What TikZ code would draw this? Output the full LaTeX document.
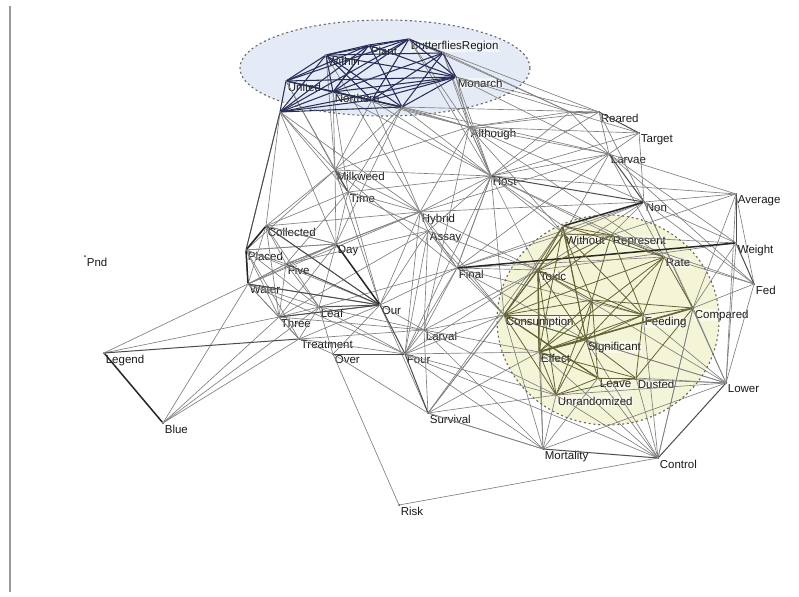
\documentclass[tikz,border=0pt]{standalone}
\usepackage{fontspec}
\setmainfont{Liberation Sans}
\definecolor{navyedge}{RGB}{40,46,88}
\definecolor{oliveedge}{RGB}{100,100,55}
\definecolor{bluefill}{RGB}{228,234,246}
\definecolor{yellowfill}{RGB}{244,244,214}
\begin{document}
\begin{tikzpicture}[x=1pt,y=-1pt,
 pt/.style={circle,fill=black!75,inner sep=0pt,minimum size=2pt},
 lbl/.style={font=\fontsize{11.5}{12}\selectfont,text=black!90,inner sep=0.8pt,fill=white,fill opacity=0.55,text opacity=1},
 ge/.style={draw=black!50,line width=0.65pt},
 gd/.style={draw=black!70,line width=1pt},
 gk/.style={draw=black!85,line width=1.5pt},
 be/.style={draw=navyedge,line width=1.05pt},
 oe/.style={draw=oliveedge,line width=0.8pt},
 ring/.style={draw=black!60,line width=1.1pt,dash pattern=on 2pt off 2.8pt},
 lb/.style={label={[lbl,label distance=0pt]below right:#1}}
]
\useasboundingbox (0,0) rectangle (799,596);
\fill[white] (0,0) rectangle (799,596);
\draw[line width=2.5pt,black!40] (10,6) -- (10,592);
% region fills
\fill[bluefill] (385,68) ellipse [x radius=145, y radius=48];
\fill[yellowfill] (608,320) ellipse [x radius=111, y radius=105];
% nodes
\node[pt,lb=Pnd] (pnd) at (85,256) {};
\node[pt,lb=Legend] (legend) at (104,353) {};
\node[pt,lb=Blue] (blue) at (163,423) {};
\node[pt,lb=Risk] (risk) at (399,505) {};
\node[pt,lb=Survival] (survival) at (428,413) {};
\node[pt,lb=Four] (four) at (405,354) {};
\node[pt,lb=Over] (over) at (333,354) {};
\node[pt,lb=Treatment] (treatment) at (299,339) {};
\node[pt,lb=Three] (three) at (279,317) {};
\node[pt,lb=Leaf] (leaf) at (319,307) {};
\node[pt,lb=Larval] (larval) at (424,330) {};
\node[pt,lb=Our] (our) at (380,305) {};
\node[pt,lb=Water] (water) at (248,284) {};
\node[pt,lb=Five] (five) at (286,264) {};
\node[pt,lb=Placed] (placed) at (246,250) {};
\node[pt,lb=Collected] (collected) at (266,226) {};
\node[pt,lb=Day] (day) at (336,244) {};
\node[pt,lb=Time] (time) at (348,192) {};
\node[pt,lb=Milkweed] (milkweed) at (335,170) {};
\node[pt,lb=Hybrid] (hybrid) at (420,212) {};
\node[pt,lb=Assay] (assay) at (428,231) {};
\node[pt,lb=Final] (final) at (457,268) {};
\node[pt,lb=Host] (host) at (491,176) {};
\node[pt,lb=Although] (although) at (469,127) {};
\node[pt,lb=Monarch] (monarch) at (456,77) {};
\node[pt,lb=ButterfliesRegion] (butterfly) at (409,39) {};
\node[pt,lb=Plant] (plant) at (369,45) {};
\node[pt,lb=Within] (within) at (326,55) {};
\node[pt,lb=United] (united) at (286,81) {};
\node[pt,lb=Northern] (northern) at (333,92) {};
\node[pt,lb=Reared] (reared) at (599,112) {};
\node[pt,lb=Target] (target) at (639,133) {};
\node[pt,lb=Larvae] (larvae) at (609,154) {};
\node[pt,lb=Non] (non) at (644,202) {};
\node[pt,lb=Average] (average) at (736,194) {};
\node[pt,lb=Weight] (weight) at (736,243) {};
\node[pt,lb=Fed] (fed) at (754,284) {};
\node[pt,lb=Compared] (compared) at (693,308) {};
\node[pt,lb=Lower] (lower) at (726,383) {};
\node[pt,lb=Control] (control) at (658,458) {};
\node[pt,lb=Mortality] (mortality) at (543,449) {};
\node[pt,lb=Unrandomized] (unrandom) at (556,395) {};
\node[pt,lb=Leave] (leave) at (598,378) {};
\node[pt,lb=Dusted] (dusted) at (636,378) {};
\node[pt,lb=Significant] (signif) at (586,340) {};
\node[pt,lb=Effect] (effect) at (539,352) {};
\node[pt,lb=Consumption] (consumption) at (504,315) {};
\node[pt,lb=Feeding] (feeding) at (643,315) {};
\node[pt,lb=Toxic] (toxic) at (538,270) {};
\node[pt,lb=Without] (without) at (564,234) {};
\node[pt,lb=Represent] (represent) at (611,235) {};
\node[pt,lb=Rate] (rate) at (664,257) {};
\node[pt] (t1) at (280,112) {};
\node[pt] (t2) at (402,107) {};
\node[pt] (t3) at (443,53) {};
\node[pt] (t4) at (372,100) {};
\node[pt] (y1) at (563,226) {};
\node[pt] (p1) at (570,112) {};
\node[pt] (y2) at (592,300) {};
% edges: gray
\foreach \a/\b in {northern/although,monarch/although,t2/although,t3/although,butterfly/although,
 t1/milkweed,united/milkweed,northern/milkweed,within/milkweed,t2/milkweed,t2/time,monarch/host,t3/host,
 butterfly/host,northern/host,t2/host,t1/time,within/hybrid,t1/collected,t1/placed,monarch/reared,
 butterfly/reared,t2/reared,t3/p1,monarch/larvae,t2/larvae,although/reared,although/target,although/larvae,
 although/non,although/host,although/p1,t4/milkweed,t4/hybrid,t4/host,butterfly/p1,monarch/p1,t4/although,
 t1/day,northern/time,t1/hybrid,united/time,t2/day,
 milkweed/time,milkweed/day,milkweed/collected,milkweed/placed,milkweed/hybrid,milkweed/host,milkweed/although,
 milkweed/our,milkweed/final,time/day,time/collected,time/hybrid,time/our,time/five,time/assay,time/host,
 day/collected,day/placed,day/leaf,day/hybrid,day/five,collected/five,collected/water,collected/our,
 collected/hybrid,placed/five,placed/our,placed/three,placed/leaf,five/water,five/three,five/leaf,five/hybrid,
 water/three,water/leaf,water/our,water/treatment,water/four,three/leaf,three/treatment,three/our,three/larval,
 leaf/treatment,leaf/four,leaf/over,treatment/our,treatment/over,treatment/four,treatment/larval,
 our/larval,our/hybrid,our/assay,our/final,our/over,our/survival,hybrid/assay,hybrid/final,hybrid/host,
 hybrid/four,hybrid/although,hybrid/non,assay/final,assay/four,assay/larval,assay/host,final/host,final/larval,
 final/four,final/non,final/toxic,final/consumption,final/rate,final/without,larval/four,larval/survival,
 larval/consumption,larval/mortality,four/mortality,four/consumption,four/control,
 over/survival,over/risk,risk/control,legend/three,legend/water,blue/treatment,blue/three,blue/leaf,blue/water,
 host/although,host/larvae,host/reared,host/p1,host/target,host/four,host/consumption,host/toxic,
 host/without,host/represent,host/average,host/final,although/rate,although/larval,p1/reared,p1/target,
 p1/larvae,reared/larvae,target/larvae,larvae/average,larvae/weight,larvae/fed,larvae/without,
 larvae/final,larvae/hybrid,non/average,non/weight,non/fed,non/without,non/represent,non/compared,non/lower,
 non/toxic,average/fed,average/compared,average/lower,average/represent,weight/toxic,
 weight/lower,weight/compared,weight/without,fed/compared,fed/lower,fed/rate,fed/represent,compared/lower,
 compared/control,lower/mortality,lower/unrandom,lower/leave,lower/dusted,lower/signif,
 lower/consumption,lower/feeding,lower/toxic,control/unrandom,control/leave,control/dusted,
 control/signif,control/effect,control/feeding,control/compared,mortality/unrandom,mortality/effect,
 mortality/consumption,mortality/leave,mortality/toxic,mortality/survival,survival/consumption,survival/effect,
 survival/unrandom,survival/toxic,survival/y1,larval/effect,four/effect,assay/consumption,hybrid/toxic,
 final/signif,final/feeding,larval/unrandom,collected/day,placed/day,water/day,three/day,five/day,
 collected/leaf,water/five,placed/treatment,collected/three,hybrid/water,assay/five,assay/three,
 final/leaf,larval/leaf,larval/toxic,four/toxic,four/unrandom,survival/mortality,host/y1,although/without,
 hybrid/consumption,assay/toxic,host/rate,larvae/rate,target/non,reared/non}
 \draw[ge] (\a) -- (\b);
% darker gray edges
\foreach \a/\b in {collected/placed,placed/water,five/our,leaf/our,legend/treatment,
 over/four,larvae/non,reared/target,t1/placed,survival/four,mortality/control,our/four,milkweed/time,
 control/lower,weight/fed,average/weight,host/non,water/our,three/our,collected/our}
 \draw[gd] (\a) -- (\b);
% strongest edges
\foreach \a/\b in {y1/non,final/weight,day/our,placed/water,legend/blue,collected/placed}
 \draw[gk] (\a) -- (\b);
% top cluster edges
\foreach \a/\b in {united/within,united/northern,united/t1,t1/northern,t1/within,within/plant,within/butterfly,
 within/northern,within/monarch,plant/butterfly,plant/northern,plant/monarch,plant/t2,butterfly/monarch,
 butterfly/t3,butterfly/northern,butterfly/t1,t3/monarch,t3/northern,t3/t2,northern/t2,northern/monarch,
 united/t2,united/plant,monarch/t2,t1/t2,within/t2,united/butterfly,t4/united,t4/within,t4/monarch,t4/t2,
 t4/t3,t4/butterfly,t1/t4,within/t3,united/monarch,t1/plant,t1/monarch,northern/plant}
 \draw[be] (\a) -- (\b);
% yellow cluster edges
\foreach \a/\b in {y1/without,y1/toxic,y1/represent,y1/consumption,y1/rate,without/represent,without/toxic,
 without/consumption,without/signif,represent/rate,represent/feeding,represent/toxic,rate/compared,rate/feeding,
 rate/consumption,toxic/consumption,toxic/effect,toxic/feeding,toxic/signif,toxic/unrandom,consumption/feeding,
 consumption/signif,consumption/unrandom,consumption/leave,feeding/compared,feeding/signif,
 feeding/effect,signif/leave,signif/dusted,signif/effect,signif/unrandom,effect/leave,effect/unrandom,
 effect/dusted,leave/dusted,unrandom/leave,unrandom/dusted,dusted/compared,feeding/dusted,
 y2/toxic,y2/consumption,y2/feeding,y2/without,y2/represent,y2/effect,y2/leave,y2/signif,y2/compared,y2/unrandom,
 y1/effect,y1/signif,without/feeding,represent/consumption,rate/effect,rate/signif}
 \draw[oe] (\a) -- (\b);
\draw[oe,line width=1.6pt] (effect) -- (compared);
\draw[oe,line width=1.3pt] (toxic) -- (effect);
\draw[oe,line width=1.2pt] (consumption) -- (leave);
% region borders
\draw[ring] (385,68) ellipse [x radius=145, y radius=48];
\draw[ring] (608,320) ellipse [x radius=111, y radius=105];
\end{tikzpicture}
\end{document}
